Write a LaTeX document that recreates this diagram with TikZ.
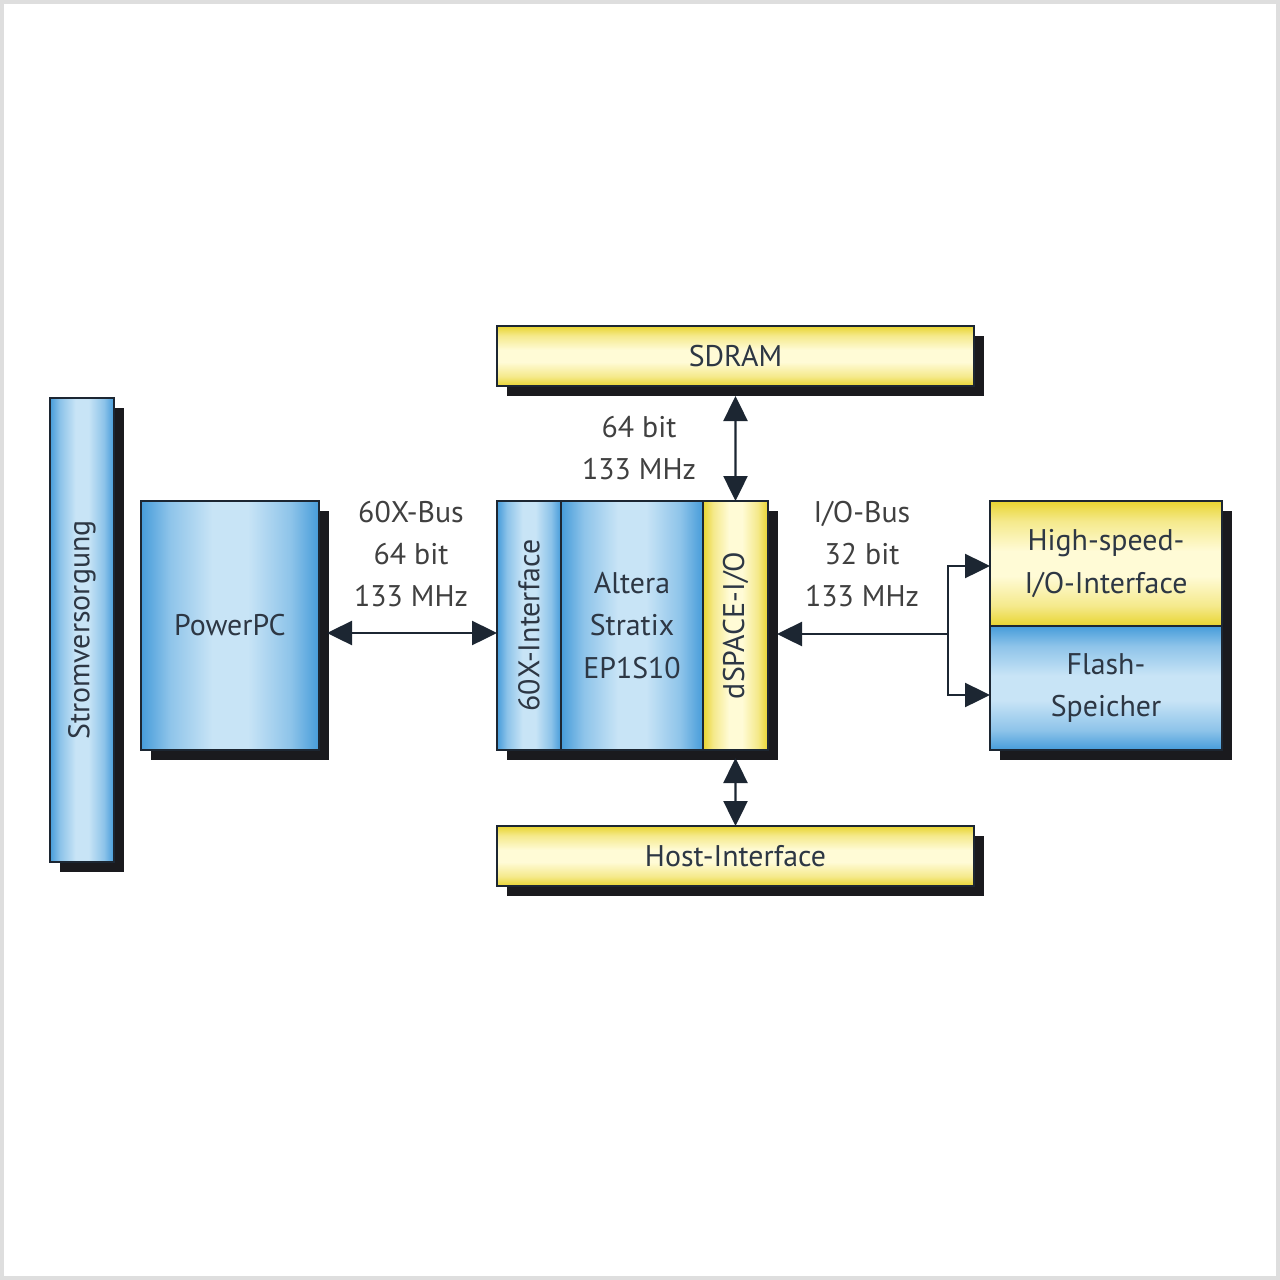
\documentclass[tikz,border=0pt]{standalone}
\usepackage{fontspec}
\setmainfont{PT Sans}
\usepackage{xcolor}
\usepackage{tikz}
\usetikzlibrary{arrows.meta,positioning,shadows}
\definecolor{dsblue}{RGB}{70,156,218}
\definecolor{dsbluelight}{RGB}{200,228,246}
\definecolor{dsyellow}{RGB}{232,212,48}
\definecolor{dsyellowlight}{RGB}{255,251,214}
\definecolor{dsline}{RGB}{28,38,50}
\definecolor{dsshadow}{RGB}{26,26,30}
\definecolor{dstext}{RGB}{45,55,68}
\definecolor{dsframe}{RGB}{222,222,222}
% soft bands: edge colour at the border, light in the middle
\pgfdeclarehorizontalshading{bluecolshade}{100bp}{color(0bp)=(dsblue); color(25bp)=(dsblue); color(33bp)=(dsblue!45!dsbluelight); color(45bp)=(dsbluelight); color(55bp)=(dsbluelight); color(67bp)=(dsblue!45!dsbluelight); color(75bp)=(dsblue); color(100bp)=(dsblue)}
\pgfdeclareverticalshading{bluerowshade}{100bp}{color(0bp)=(dsblue); color(25bp)=(dsblue); color(33bp)=(dsblue!45!dsbluelight); color(45bp)=(dsbluelight); color(55bp)=(dsbluelight); color(67bp)=(dsblue!45!dsbluelight); color(75bp)=(dsblue); color(100bp)=(dsblue)}
\pgfdeclarehorizontalshading{yellowcolshade}{100bp}{color(0bp)=(dsyellow); color(25bp)=(dsyellow); color(33bp)=(dsyellow!45!dsyellowlight); color(45bp)=(dsyellowlight); color(55bp)=(dsyellowlight); color(67bp)=(dsyellow!45!dsyellowlight); color(75bp)=(dsyellow); color(100bp)=(dsyellow)}
\pgfdeclareverticalshading{yellowrowshade}{100bp}{color(0bp)=(dsyellow); color(25bp)=(dsyellow); color(33bp)=(dsyellow!45!dsyellowlight); color(45bp)=(dsyellowlight); color(55bp)=(dsyellowlight); color(67bp)=(dsyellow!45!dsyellowlight); color(75bp)=(dsyellow); color(100bp)=(dsyellow)}
\tikzset{
  box/.style={rectangle, draw=dsline, line width=0.6pt, inner sep=0pt, outer sep=0pt, align=center, text=dstext, font=\fontsize{8.5}{12}\selectfont, general shadow={fill=dsshadow, shadow xshift=1mm, shadow yshift=-1mm}},
  bluecol/.style={box, shading=bluecolshade},
  bluerow/.style={box, shading=bluerowshade},
  yellowcol/.style={box, shading=yellowcolshade},
  yellowrow/.style={box, shading=yellowrowshade},
  arrow/.style={-{Triangle[length=2.5mm,width=2.4mm]}, line width=0.7pt, draw=dsline},
  biarrow/.style={{Triangle[length=2.5mm,width=2.4mm]}-{Triangle[length=2.5mm,width=2.4mm]}, line width=0.7pt, draw=dsline},
  buslabel/.style={align=center, text=black!75, font=\fontsize{8.5}{12}\selectfont}
}

\begin{document}
\begin{tikzpicture}[x=0.1mm, y=-0.1mm]
\useasboundingbox (0,0) rectangle (1280,1280);
\draw[dsframe, line width=0.8mm] (0,0) rectangle (1280,1280);
% blocks
\node[bluecol, minimum width=6.4mm, minimum height=46.4mm] (strom) at (82,630) {\rotatebox{90}{Stromversorgung}};
\node[bluecol, minimum width=17.8mm, minimum height=24.9mm] (ppc) at (230,625.5) {PowerPC};
\node[bluecol, minimum width=6.4mm, minimum height=24.9mm] (iface) at (529,625.5) {\rotatebox{90}{60X-Interface}};
\node[bluecol, minimum width=14.2mm, minimum height=24.9mm, anchor=west] (fpga) at (iface.east) {Altera\\Stratix\\EP1S10};
\node[yellowcol, minimum width=6.5mm, minimum height=24.9mm, anchor=west] (dsio) at (fpga.east) {\rotatebox{90}{dSPACE-I/O}};
\node[yellowrow, minimum width=47.7mm, minimum height=6mm] (sdram) at (735.5,356) {SDRAM};
\node[yellowrow, minimum width=47.7mm, minimum height=6mm] (host) at (735.5,856) {Host-Interface};
\node[yellowrow, minimum width=23.2mm, minimum height=12.5mm] (hsio) at (1106,563.5) {High-speed-\\I/O-Interface};
\node[bluerow, minimum width=23.2mm, minimum height=12.4mm, anchor=north] (flash) at (hsio.south) {Flash-\\Speicher};
% bus labels
\node[buslabel] (bus60x) at (411,554) {60X-Bus\\64 bit\\133 MHz};
\node[buslabel] (busmem) at (639,448) {64 bit\\133 MHz};
\node[buslabel] (busio) at (862,554) {I/O-Bus\\32 bit\\133 MHz};
% connectors
\draw[biarrow] ([xshift=0.8mm,yshift=-0.75mm]ppc.east) -- ([yshift=-0.75mm]iface.west);
\draw[biarrow] ([yshift=-1mm]sdram.south) -- (dsio.north);
\draw[biarrow] ([yshift=-0.8mm]dsio.south) -- (host.north);
\coordinate (iosplit) at (948,634);
\draw[arrow] (iosplit) -- ([xshift=0.9mm]iosplit -| dsio.east);
\draw[arrow] (iosplit) |- ([yshift=-0.25mm]hsio.west);
\draw[arrow] (iosplit) |- ([yshift=-0.7mm]flash.west);
\end{tikzpicture}
\end{document}
